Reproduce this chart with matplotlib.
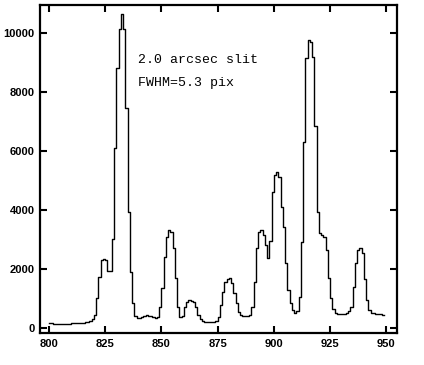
import numpy as np
import matplotlib
matplotlib.use("Agg")
import matplotlib.pyplot as plt

# wavelength bins (one per unit) and counts
wave_start = 800
counts = [
    175, 165, 150, 140, 135, 130, 125, 130, 140, 150,      # 800
    160, 165, 170, 175, 180, 185, 195, 200, 230, 300,      # 810
    440, 1000, 1730, 2300, 2330, 2300, 1930, 1930, 3000, 6100,   # 820
    8800, 10150, 10650, 10150, 7450, 3930, 1900, 850, 400, 330,  # 830
    340, 380, 420, 440, 420, 400, 380, 340, 380, 700,      # 840
    1350, 2420, 3100, 3320, 3270, 2700, 1700, 720, 380, 420,     # 850
    720, 890, 950, 930, 890, 720, 450, 300, 230, 210,      # 860
    200, 200, 195, 205, 240, 380, 780, 1230, 1570, 1650,   # 870
    1680, 1540, 1180, 840, 550, 440, 400, 390, 400, 450,   # 880
    720, 1550, 2700, 3250, 3320, 3150, 2800, 2360, 2950, 4600,   # 890
    5200, 5300, 5130, 4100, 3430, 2200, 1300, 840, 600, 500,     # 900
    560, 1050, 2900, 6300, 9150, 9760, 9710, 9180, 6860, 3940,   # 910
    3210, 3150, 3100, 2650, 1700, 1000, 650, 520, 480, 470,      # 920
    480, 490, 500, 560, 720, 1400, 2200, 2650, 2700, 2550,       # 930
    1650, 950, 600, 520, 520, 480, 460, 470, 440, 440,           # 940
]
wave = np.arange(wave_start, wave_start + len(counts))

xticks = [800, 825, 850, 875, 900, 925, 950]
yticks = [0, 2000, 4000, 6000, 8000, 10000]
label_text = ["2.0 arcsec slit", "FWHM=5.3 pix"]

fig = plt.figure(figsize=(4.24, 3.65), dpi=100)
ax = fig.add_axes([40 / 424, 1 - 333 / 365, 357 / 424, 328 / 365])

ax.step(wave, counts, where="post", color="black", lw=1.0)

ax.set_xlim(796, 954.7)
ax.set_ylim(-170, 10950)
ax.set_xticks(xticks)
ax.set_yticks(yticks)
ax.tick_params(direction="in", length=5, width=1.5, top=True, right=True,
               labelsize=8, pad=4)
for lab in ax.get_xticklabels() + ax.get_yticklabels():
    lab.set_fontweight("bold")
    lab.set_family("Liberation Sans")
for s in ax.spines.values():
    s.set_linewidth(1.6)

ax.text(839.6, 8980, label_text[0], family="Liberation Mono", fontsize=9.5,
        va="baseline")
ax.text(839.6, 8200, label_text[1], family="Liberation Mono", fontsize=9.5,
        va="baseline")

fig.savefig("out.png", dpi=100)
